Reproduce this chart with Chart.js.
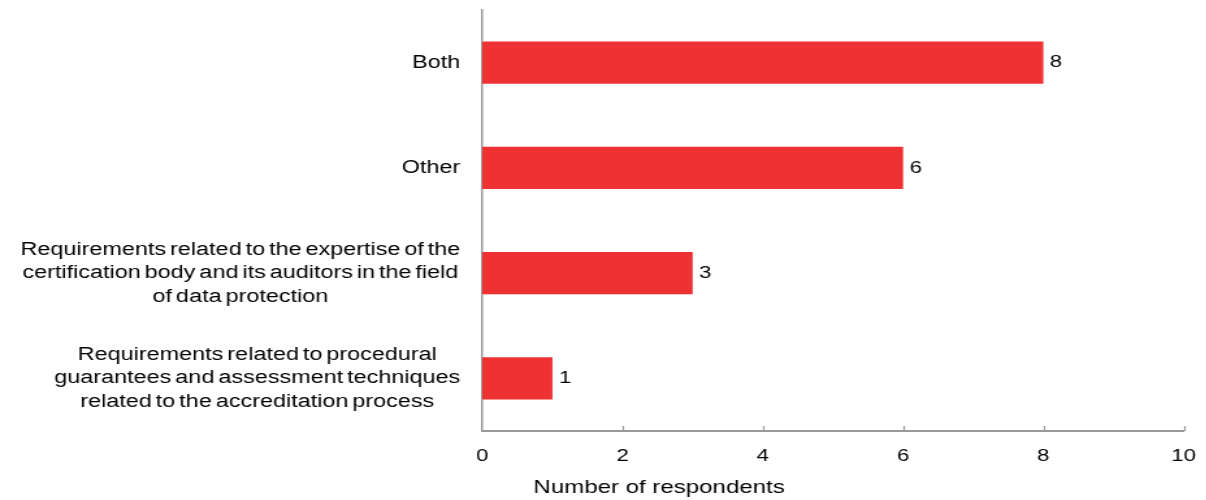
<!DOCTYPE html>
<html>
<head>
<meta charset="utf-8">
<script src="https://cdn.jsdelivr.net/npm/chart.js@4.4.1/dist/chart.umd.min.js"></script>
<style>
    html, body { margin: 0; padding: 0; background: #fff; overflow: hidden; }
    #wrap { width: 1206px; height: 500px; }
    /* chart is drawn narrow and stretched sideways */
    #chart { transform-origin: 0 0; transform: scaleX(1.3); }
</style>
</head>
<body>
<div id="wrap"><canvas id="chart" width="928" height="500"></canvas></div>
<script>
// categories, top to bottom (each entry = lines of the label)
var categories = [
    ["Both"],
    ["Other"],
    ["Requirements related to the expertise of the", "certification body and its auditors in the field", "of data protection"],
    ["Requirements related to procedural", "guarantees and assessment techniques", "related to the accreditation process"]
];
var respondents = [8, 6, 3, 1];
var xTicks = [0, 2, 4, 6, 8, 10];
var xTitle = "Number of respondents";

var FONT = "'Liberation Sans', Arial, sans-serif";
var FONT_SIZE = 17;
var LABEL_SIZE = 18;
var LINE_H = 23.5;

// category labels: block sits left of the axis, lines centred inside the block
var categoryLabels = {
    id: 'categoryLabels',
    afterDraw: function (chart) {
        var ctx = chart.ctx;
        var yScale = chart.scales.y;
        var right = chart.chartArea.left - 17;
        ctx.save();
        ctx.font = LABEL_SIZE + 'px ' + FONT;
        ctx.wordSpacing = '-2px';
        ctx.fillStyle = '#000';
        ctx.textAlign = 'center';
        ctx.textBaseline = 'middle';
        for (var i = 0; i < categories.length; i++) {
            var lines = categories[i];
            var maxW = 0;
            for (var j = 0; j < lines.length; j++) {
                maxW = Math.max(maxW, ctx.measureText(lines[j]).width);
            }
            var cx = right - maxW / 2;
            var y0 = yScale.getPixelForValue(i) - (lines.length - 1) * LINE_H / 2;
            for (var j = 0; j < lines.length; j++) {
                ctx.fillText(lines[j], cx, y0 + j * LINE_H);
            }
        }
        ctx.restore();
    }
};

// small tick marks pointing up from the x axis + the axis title
var xAxisExtras = {
    id: 'xAxisExtras',
    afterDraw: function (chart) {
        var ctx = chart.ctx;
        var xScale = chart.scales.x;
        var bottom = chart.chartArea.bottom;
        ctx.save();
        ctx.strokeStyle = '#9a9a9a';
        ctx.lineWidth = 1.2;
        for (var i = 1; i < xTicks.length; i++) {
            var x = Math.round(xScale.getPixelForValue(xTicks[i])) + 0.5;
            ctx.beginPath();
            ctx.moveTo(x, bottom);
            ctx.lineTo(x, bottom - 5);
            ctx.stroke();
        }
        // title sits left of the plot centre
        ctx.font = '18.5px ' + FONT;
        ctx.fillStyle = '#000';
        ctx.textAlign = 'center';
        ctx.textBaseline = 'middle';
        ctx.fillText(xTitle, chart.chartArea.left + 136, 488);
        ctx.restore();
    }
};

// value at the end of each bar
var valueLabels = {
    id: 'valueLabels',
    afterDatasetsDraw: function (chart) {
        var ctx = chart.ctx;
        var meta = chart.getDatasetMeta(0);
        ctx.save();
        ctx.font = FONT_SIZE + 'px ' + FONT;
        ctx.fillStyle = '#000';
        ctx.textAlign = 'left';
        ctx.textBaseline = 'middle';
        meta.data.forEach(function (bar, i) {
            ctx.fillText(String(respondents[i]), bar.x + 5, bar.y);
        });
        ctx.restore();
    }
};

var chart = new Chart(document.getElementById('chart'), {
    type: 'bar',
    data: {
        labels: categories,
        datasets: [{
            label: xTitle,
            data: respondents,
            backgroundColor: '#ee3233',
            borderWidth: 0,
            barPercentage: 0.4,
            categoryPercentage: 1
        }]
    },
    options: {
        indexAxis: 'y',
        responsive: false,
        animation: false,
        devicePixelRatio: 1,
        layout: { padding: { top: 10, right: 17.5, bottom: 0, left: 0 } },
        plugins: {
            legend: { display: false },
            tooltip: { enabled: false }
        },
        scales: {
            x: {
                min: 0,
                max: 10,
                afterBuildTicks: function (scale) {
                    scale.ticks = xTicks.map(function (v) { return { value: v }; });
                },
                grid: { display: false },
                border: { display: true, color: '#9a9a9a', width: 2 },
                ticks: {
                    padding: 7,
                    color: '#000',
                    font: { family: FONT, size: FONT_SIZE }
                },
                afterFit: function (scale) { scale.height = 69; }
            },
            y: {
                grid: { display: false },
                border: { display: true, color: '#9a9a9a', width: 1.5 },
                ticks: { display: false },
                afterFit: function (scale) { scale.width = 371; }
            }
        }
    },
    plugins: [categoryLabels, xAxisExtras, valueLabels]
});
</script>
</body>
</html>
